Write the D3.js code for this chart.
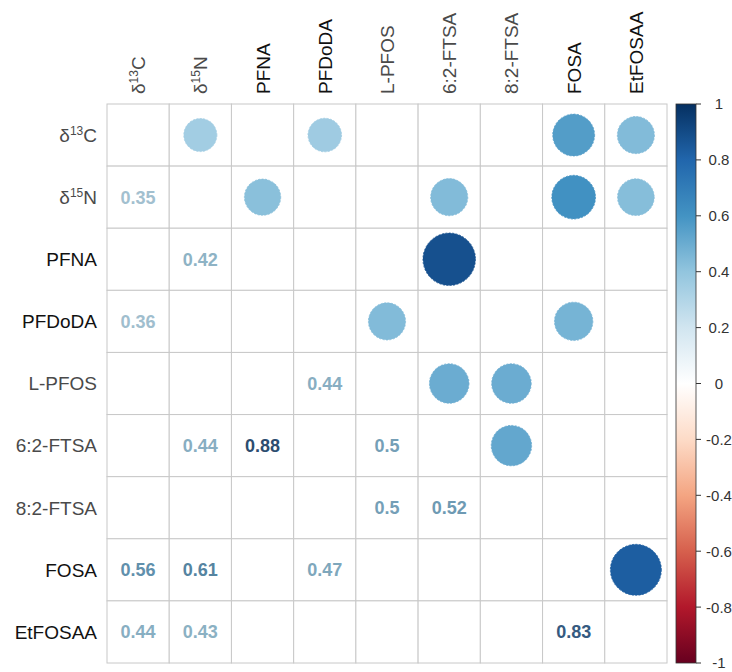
<!DOCTYPE html>
<html>
<head>
<meta charset="utf-8">
<script src="https://cdn.jsdelivr.net/npm/d3@7"></script>
<style>
  body { margin: 0; background: #fff; }
  text { font-family: "Liberation Sans", Arial, sans-serif; }
</style>
</head>
<body>
<div id="chart"></div>
<script>
// variable names (label parts: [base, superscript, tail])
var vars = ["d13C", "d15N", "PFNA", "PFDoDA", "L-PFOS", "6:2-FTSA", "8:2-FTSA", "FOSA", "EtFOSAA"];
var varLabels = [["δ", "13", "C"], ["δ", "15", "N"], ["PFNA"], ["PFDoDA"], ["L-PFOS"],
                 ["6:2-FTSA"], ["8:2-FTSA"], ["FOSA"], ["EtFOSAA"]];
var darkLabels = ["PFNA", "PFDoDA", "FOSA", "EtFOSAA"];

// significant correlations (lower triangle, row, column, r)
var pairRow = ["d15N", "PFNA", "PFDoDA", "L-PFOS", "6:2-FTSA", "6:2-FTSA", "6:2-FTSA", "8:2-FTSA", "8:2-FTSA",
               "FOSA", "FOSA", "FOSA", "EtFOSAA", "EtFOSAA", "EtFOSAA"];
var pairCol = ["d13C", "d15N", "d13C", "PFDoDA", "d15N", "PFNA", "L-PFOS", "L-PFOS", "6:2-FTSA",
               "d13C", "d15N", "PFDoDA", "d13C", "d15N", "FOSA"];
var pairR   = [0.35, 0.42, 0.36, 0.44, 0.44, 0.88, 0.5, 0.5, 0.52,
               0.56, 0.61, 0.47, 0.44, 0.43, 0.83];

var legendTicks = [1, 0.8, 0.6, 0.4, 0.2, 0, -0.2, -0.4, -0.6, -0.8, -1];
var rdbu = ["#67001F", "#B2182B", "#D6604D", "#F4A582", "#FDDBC7", "#FFFFFF",
            "#D1E5F0", "#92C5DE", "#4393C3", "#2166AC", "#053061"];

var width = 732, height = 672;

var svg = d3.select("#chart").append("svg")
    .attr("width", width)
    .attr("height", height);

var x = d3.scaleBand().domain(vars).range([107, 667]);
var y = d3.scaleBand().domain(vars).range([104, 663]);
var color = d3.scaleLinear()
    .domain(d3.range(11).map(function(i){ return -1 + i * 0.2; }))
    .range(rdbu);

var pairs = pairR.map(function(r, i){
    return { row: pairRow[i], col: pairCol[i], r: r };
});

// grid
var grid = svg.append("g");
vars.forEach(function(rv){
    vars.forEach(function(cv){
        grid.append("rect")
            .attr("x", x(cv))
            .attr("y", y(rv))
            .attr("width", x.bandwidth())
            .attr("height", y.bandwidth())
            .attr("fill", "#fff")
            .attr("stroke", "#c8c8c8")
            .attr("stroke-width", 1);
    });
});

// upper triangle: circles (area ~ |r|)
var maxR = x.bandwidth() / 2 * 0.9;
svg.selectAll(".corr-circle")
    .data(pairs)
    .enter().append("circle")
    .attr("class", "corr-circle")
    .attr("cx", function(d){ return x(d.row) + x.bandwidth() / 2; })
    .attr("cy", function(d){ return y(d.col) + y.bandwidth() / 2; })
    .attr("r", function(d){ return Math.sqrt(Math.abs(d.r)) * maxR; })
    .attr("fill", function(d){ return color(d.r); })
    .attr("stroke", function(d){ return color(d.r); })
    .attr("stroke-width", 0.8)
    .attr("stroke-dasharray", "2,1.5");

// lower triangle: numbers (a bit greyer than the circles)
function numColor(r){
    var c = d3.hsl(color(r));
    c.s = c.s * 0.6;
    c.l = c.l * 0.95;
    return c.toString();
}
svg.selectAll(".corr-num")
    .data(pairs)
    .enter().append("text")
    .attr("class", "corr-num")
    .attr("x", function(d){ return x(d.col) + x.bandwidth() / 2; })
    .attr("y", function(d){ return y(d.row) + y.bandwidth() / 2; })
    .attr("dy", "0.36em")
    .attr("text-anchor", "middle")
    .attr("font-size", 18)
    .attr("font-weight", "bold")
    .attr("fill", function(d){ return numColor(d.r); })
    .text(function(d){ return d3.format("")(d.r); });

function addLabel(sel, parts){
    sel.append("tspan").text(parts[0]);
    if (parts.length > 1) {
        sel.append("tspan").attr("font-size", 12).attr("dy", -7).text(parts[1]);
        sel.append("tspan").attr("dy", 7).text(parts[2]);
    }
}

// row labels
vars.forEach(function(v, i){
    var t = svg.append("text")
        .attr("x", 97)
        .attr("y", y(v) + y.bandwidth() / 2)
        .attr("dy", "0.36em")
        .attr("text-anchor", "end")
        .attr("font-size", 19)
        .attr("fill", darkLabels.indexOf(v) >= 0 ? "#111" : "#4a4a4a");
    addLabel(t, varLabels[i]);
});

// column labels
vars.forEach(function(v, i){
    var cx = x(v) + x.bandwidth() / 2;
    var t = svg.append("text")
        .attr("transform", "translate(" + (cx + 7) + ",94) rotate(-90)")
        .attr("text-anchor", "start")
        .attr("font-size", 19)
        .attr("fill", darkLabels.indexOf(v) >= 0 ? "#111" : "#4a4a4a");
    addLabel(t, varLabels[i]);
});

// colour legend
var ly = d3.scaleLinear().domain([-1, 1]).range([663, 104]);
var defs = svg.append("defs");
var grad = defs.append("linearGradient")
    .attr("id", "rdbu")
    .attr("x1", 0).attr("y1", 1).attr("x2", 0).attr("y2", 0);
rdbu.forEach(function(c, i){
    grad.append("stop")
        .attr("offset", (i / 10 * 100) + "%")
        .attr("stop-color", c);
});

svg.append("rect")
    .attr("x", 676)
    .attr("y", ly(1))
    .attr("width", 20)
    .attr("height", ly(-1) - ly(1))
    .attr("fill", "url(#rdbu)")
    .attr("stroke", "#333")
    .attr("stroke-width", 0.8);

var lg = svg.append("g");
lg.selectAll("line")
    .data(legendTicks)
    .enter().append("line")
    .attr("x1", 696).attr("x2", 701)
    .attr("y1", function(d){ return ly(d); })
    .attr("y2", function(d){ return ly(d); })
    .attr("stroke", "#333");
lg.selectAll("text")
    .data(legendTicks)
    .enter().append("text")
    .attr("x", 719)
    .attr("y", function(d){ return ly(d); })
    .attr("dy", "0.36em")
    .attr("text-anchor", "middle")
    .attr("font-size", 15)
    .attr("fill", "#333")
    .text(function(d){ return d; });
</script>
</body>
</html>
